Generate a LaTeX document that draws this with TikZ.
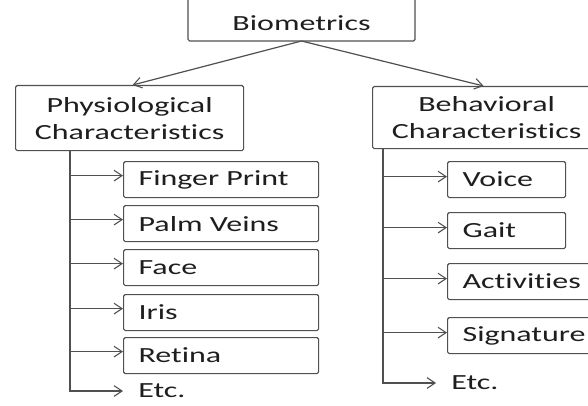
\documentclass[tikz,border=0pt]{standalone}
\usepackage{fontspec}
\setmainfont{Carlito}[FakeStretch=1.48, Ligatures=NoCommon]
\usetikzlibrary{arrows.meta,calc}
\definecolor{linegray}{HTML}{505050}
\definecolor{txt}{HTML}{1E1E1E}
\begin{document}
\begin{tikzpicture}[x=0.75pt,y=-0.75pt,
  font=\fontsize{16.2pt}{20.25pt}\selectfont, text=txt,
  frame/.style={draw=linegray, line width=0.9pt, rounded corners=1.2pt},
  head/.style={frame, anchor=north west, align=center, inner sep=0pt},
  leaf/.style={frame, anchor=north west, inner xsep=11.25pt, inner ysep=0pt, align=left, minimum height=27pt},
  etcnode/.style={anchor=west, inner xsep=11.25pt, inner ysep=0pt},
  arr/.style={draw=linegray, line width=0.9pt, -{Straight Barb[length=6pt,width=8pt,line width=0.8pt]}},
  ln/.style={draw=linegray, line width=0.9pt}]
\useasboundingbox (0,0) rectangle (588,406);
\fill[white] (0,0) rectangle (588,406);
% root
\node[inner sep=0pt] (bm) at (301.5,23) {Biometrics};
\draw[frame] ($(bm.center)+(-113.5,-40)$) rectangle ($(bm.center)+(113.5,18)$);
\coordinate (bmb) at ($(bm.center)+(0,18)$);
% category boxes
\node[head, minimum width=171pt, minimum height=48.75pt] (phys) at (15,85) {Physiological\\Characteristics};
\node[head, minimum width=171pt, minimum height=46.5pt] (behav) at (372,86) {Behavioral\\Characteristics};
\draw[arr] (bmb) -- ($(phys.north)+(3,0)$);
\draw[arr] (bmb) -- ($(behav.north)+(-3,0)$);
% left leaves
\node[leaf, text width=123.75pt] (fp) at (123,161) {Finger Print};
\node[leaf, text width=123.75pt] (pv) at (123,205) {Palm Veins};
\node[leaf, text width=123.75pt] (face) at (123,249) {Face};
\node[leaf, text width=123.75pt] (iris) at (123,294) {Iris};
\node[leaf, text width=123.75pt] (ret) at (123,337) {Retina};
\node[etcnode] (etcL) at (123,391) {Etc.};
\coordinate (tL) at (70,150);
\foreach \n in {fp,pv,face,iris,ret}{
  \draw[arr] (tL) |- ($(\n.west)+(0,-4)$);
}
\draw[arr] (tL) |- (etcL.west);
% right leaves
\node[leaf, text width=66pt] (voice) at (447,161) {Voice};
\node[leaf, text width=66pt] (gait) at (447,212) {Gait};
\node[leaf, text width=92.25pt] (act) at (447,263) {Activities};
\node[leaf, text width=92.25pt] (sig) at (447,317) {Signature};
\node[etcnode] (etcR) at (436,383) {Etc.};
\coordinate (tR) at (383,148);
\foreach \n in {voice,gait,act,sig}{
  \draw[arr] (tR) |- ($(\n.west)+(0,-3)$);
}
\draw[arr] (tR) |- (etcR.west);
\end{tikzpicture}
\end{document}
